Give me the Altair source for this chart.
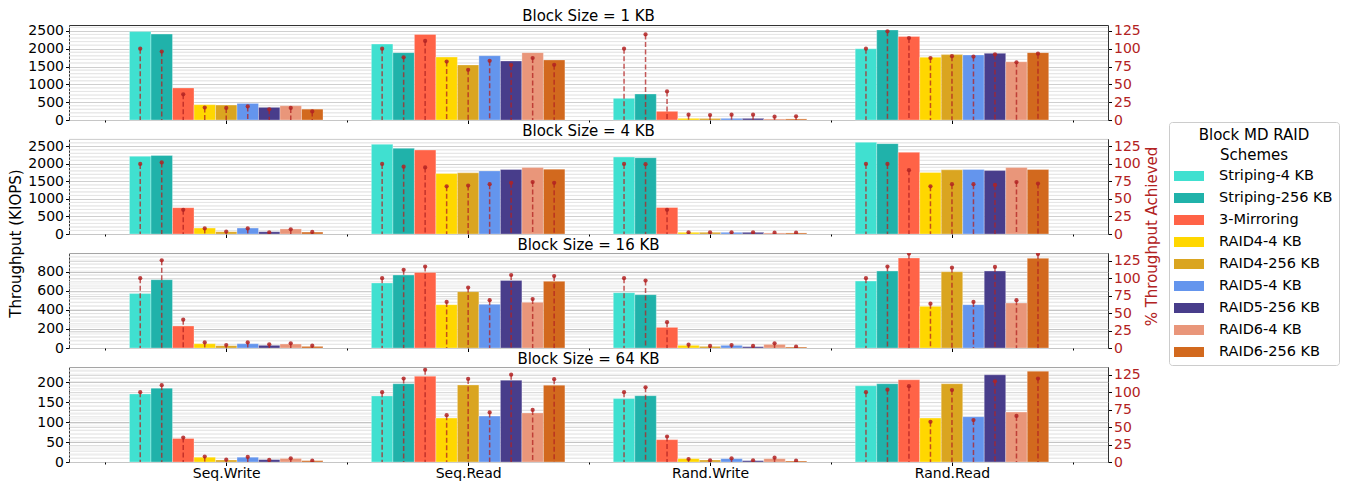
import json
import altair as alt
import pandas as pd

# ---------------- data ----------------
categories = ["Seq.Write", "Seq.Read", "Rand.Write", "Rand.Read"]
schemes = ["Striping-4 KB", "Striping-256 KB", "3-Mirroring", "RAID4-4 KB", "RAID4-256 KB",
           "RAID5-4 KB", "RAID5-256 KB", "RAID6-4 KB", "RAID6-256 KB"]
scheme_colors = ["#40E0D0", "#20B2AA", "#FF6347", "#FFD700", "#DAA520",
                 "#6495ED", "#483D8B", "#E9967A", "#D2691E"]
block_sizes = ["1 KB", "4 KB", "16 KB", "64 KB"]

# throughput (KIOPS), one row per category, one value per scheme
kiops_1kb = [
    [2480, 2410, 900, 430, 420, 465, 355, 400, 305],
    [2130, 1890, 2400, 1765, 1545, 1805, 1655, 1890, 1685],
    [608, 729, 243, 46, 43, 46, 46, 29, 30],
    [2000, 2525, 2345, 1760, 1835, 1825, 1870, 1635, 1890],
]
kiops_4kb = [
    [2215, 2240, 750, 170, 65, 170, 65, 145, 55],
    [2560, 2445, 2395, 1725, 1745, 1800, 1840, 1895, 1850],
    [2195, 2175, 755, 48, 48, 48, 48, 30, 30],
    [2615, 2578, 2330, 1755, 1830, 1840, 1810, 1895, 1840],
]
kiops_16kb = [
    [570, 715, 230, 45, 24, 45, 28, 42, 17],
    [681, 764, 792, 454, 590, 457, 708, 478, 698],
    [579, 558, 216, 28, 17, 28, 14, 38, 10],
    [701, 806, 942, 436, 799, 454, 806, 471, 939],
]
kiops_64kb = [
    [170.5, 185, 59, 12, 5, 12, 6, 9, 3.4],
    [165.5, 196, 215, 110, 193, 115, 205, 123, 192.5],
    [159, 166, 56, 8.4, 5, 8.4, 3.4, 8.4, 2.5],
    [191, 196, 206, 110, 196, 113.5, 218.5, 125, 227.5],
]
# % throughput achieved
pct_1kb = [
    [100, 96, 36, 17.5, 17, 19, 15, 17, 12],
    [100, 88, 111, 82, 70.5, 83, 77, 87, 77.5],
    [100, 120, 40, 7.5, 7, 7.5, 7.5, 4.7, 5.2],
    [100, 124.5, 115, 87, 89.5, 89, 92, 81, 93],
]
pct_4kb = [
    [100, 102, 34.5, 8, 3.4, 8, 2.5, 6.7, 2.9],
    [100, 96, 95, 68, 69, 71, 73, 74, 73],
    [100, 99.5, 34.5, 2.4, 2.4, 2.4, 2.4, 1.9, 1.9],
    [100, 100, 91, 68, 71, 71, 70, 74, 72],
]
pct_16kb = [
    [100, 125.5, 40.5, 8, 4.3, 8, 5.3, 6.7, 3.3],
    [100, 112, 116.5, 66, 86.5, 68.5, 104.5, 70, 103],
    [100, 96.5, 37, 4.8, 2.9, 4.3, 2.9, 6.7, 1.9],
    [100, 116.5, 135, 63.5, 115, 66, 116, 68.5, 134.5],
]
pct_64kb = [
    [100, 110, 35, 7.7, 3.4, 7.2, 2.9, 5.3, 1.9],
    [100, 119.5, 132, 67, 119, 71, 125, 74.5, 118.5],
    [100, 107, 36.5, 4.3, 2.4, 5.3, 2.4, 6.2, 1.9],
    [100, 103.5, 108.5, 57.5, 103, 60, 115.5, 66, 119.5],
]
kiops_all = [kiops_1kb, kiops_4kb, kiops_16kb, kiops_64kb]
pct_all = [pct_1kb, pct_4kb, pct_16kb, pct_64kb]

# axis ranges per panel
left_max = [2665, 2710, 995, 238]
left_step = [500, 500, 200, 50]
right_max = [133.3, 135.5, 136, 136]

rows = []
for b, bs in enumerate(block_sizes):
    for c, cat in enumerate(categories):
        for s, sch in enumerate(schemes):
            rows.append(dict(block=bs, category=cat, ci=c, scheme=sch, si=s,
                             kiops=kiops_all[b][c][s], pct=pct_all[b][c][s]))
df = pd.DataFrame(rows)

# ---------------- styling ----------------
RED = "#b22222"
FONT = "DejaVu Sans"
BW = 0.8 / len(schemes)
MID = (len(schemes) - 1) / 2
W, H = 1039, 95

x_scale = alt.Scale(domain=[-0.65, 3.645], nice=False, zero=False)
label_expr = f"datum.value % 1 == 0 ? {json.dumps(categories)}[datum.value] : ''"
x_tick_values = [-0.5, 0, 0.5, 1, 1.5, 2, 2.5, 3, 3.5]

legend = alt.Legend(
    orient="none", legendX=1100, legendY=97,
    title=["Block MD RAID", "Schemes"], titleFontSize=15, titleFontWeight="normal",
    titleColor="black", titleFont=FONT, titleLineHeight=20, titleAnchor="middle",
    titleAlign="center", titlePadding=3,
    labelFontSize=14.5, labelColor="black", labelFont=FONT, labelLimit=400,
    symbolType="M-1.5,-0.5H1.5V0.5H-1.5Z", symbolSize=400, symbolStrokeWidth=0,
    symbolOpacity=1, symbolOffset=4, labelOffset=20, rowPadding=5, padding=6,
    strokeColor="#cccccc", fillColor="white", cornerRadius=3,
)


def make_panel(b):
    last = b == len(block_sizes) - 1
    L, R, step = left_max[b], right_max[b], left_step[b]
    minor = step / 5

    x_axis = alt.Axis(
        values=x_tick_values, labels=last, labelExpr=label_expr, title=None,
        tickSize={"condition": {"test": "datum.value % 1 != 0", "value": 2}, "value": 3.5},
        tickColor="black", domain=False, grid=False, labelFontSize=14,
        labelColor="black", labelPadding=1, labelFont=FONT,
    )
    left_axis_kw = dict(
        values=list(range(0, int(L) + 1, step)), format="d", tickSize=3.5, tickColor="black",
        labelFontSize=14, labelColor="black", labelPadding=2, labelFont=FONT,
        domain=False, grid=True, gridColor="#b5b5b5", gridWidth=0.8,
    )
    if b == 1:
        left_axis_kw.update(title="Throughput (KIOPS)", titleFontSize=15, titleFont=FONT,
                            titleFontWeight="normal", titleColor="black", titleY=104,
                            titleAlign="center", titlePadding=4)
    else:
        left_axis_kw.update(title=None)
    left_axis = alt.Axis(**left_axis_kw)
    y_left_scale = alt.Scale(domain=[0, L], nice=False, zero=True)

    right_axis_kw = dict(
        orient="right", values=[0, 25, 50, 75, 100, 125], format="d", tickSize=3.5,
        tickColor="black", labelFontSize=14, labelColor=RED, labelPadding=2, labelFont=FONT,
        domain=False, grid=True, gridColor="#d2d2d2", gridWidth=0.8,
    )
    if b == 1:
        right_axis_kw.update(title="% Throughput Achieved", titleFontSize=15, titleFont=FONT,
                             titleFontWeight="normal", titleColor=RED, titleAngle=-90,
                             titleBaseline="top", titleY=97, titleAlign="center",
                             titlePadding=4)
    else:
        right_axis_kw.update(title=None)
    right_axis = alt.Axis(**right_axis_kw)
    y_right_scale = alt.Scale(domain=[0, R], nice=False, zero=True)

    # minor gridlines (left axis sub-steps and right axis 5% steps)
    minor_left = alt.Chart(alt.sequence(minor, L, minor, as_="v")).transform_filter(
        f"abs(datum.v / {step} - round(datum.v / {step})) > 1e-6"
    ).mark_rule(color="#e4e4e4", strokeWidth=0.8).encode(
        y=alt.Y("v:Q", scale=y_left_scale, axis=left_axis)
    )
    minor_right = alt.Chart(alt.sequence(5, R, 5, as_="p")).transform_filter(
        "datum.p % 25 != 0"
    ).transform_calculate(v=f"datum.p * {L} / {R}").mark_rule(
        color="#e4e4e4", strokeWidth=0.8
    ).encode(y=alt.Y("v:Q", scale=y_left_scale, axis=left_axis))

    base = alt.Chart(df).transform_filter(
        alt.datum.block == block_sizes[b]
    ).transform_calculate(
        xc=f"datum.ci + (datum.si - {MID}) * {BW}",
        xl=f"datum.ci + (datum.si - {MID}) * {BW} - {BW / 2}",
        xr=f"datum.ci + (datum.si - {MID}) * {BW} + {BW / 2}",
    )

    bars = base.mark_bar(stroke="white", strokeWidth=0.6, strokeOpacity=0.5).encode(
        x=alt.X("xl:Q", scale=x_scale, axis=x_axis),
        x2="xr:Q",
        y=alt.Y("kiops:Q", scale=y_left_scale, axis=left_axis),
        y2=alt.datum(0),
        color=alt.Color("scheme:N", scale=alt.Scale(domain=schemes, range=scheme_colors),
                        legend=legend),
    )
    stems = base.mark_rule(color=RED, strokeDash=[5, 2.5], strokeWidth=1.5, opacity=0.75).encode(
        x=alt.X("xc:Q", scale=x_scale, axis=x_axis),
        y=alt.Y("pct:Q", scale=y_right_scale, axis=right_axis),
        y2=alt.datum(0),
    )
    dots = base.mark_circle(color=RED, size=18, opacity=0.85, clip=True).encode(
        x=alt.X("xc:Q", scale=x_scale, axis=x_axis),
        y=alt.Y("pct:Q", scale=y_right_scale, axis=right_axis),
    )

    left = alt.layer(minor_left, minor_right, bars)
    right = alt.layer(stems, dots)
    return alt.layer(left, right).resolve_scale(y="independent").properties(
        width=W, height=H,
        title=alt.TitleParams(f"Block Size = {block_sizes[b]}", fontSize=15, font=FONT,
                              fontWeight="normal", color="black", anchor="middle", offset=0),
    )


chart = alt.vconcat(
    *[make_panel(b) for b in range(len(block_sizes))],
    spacing=19, bounds="flush",
    padding={"left": 0, "top": 0, "right": 0, "bottom": 0},
).configure(font=FONT).configure_view(stroke="#333333", strokeWidth=1)

chart.save("out.html", embed_options={"renderer": "svg", "actions": False})
